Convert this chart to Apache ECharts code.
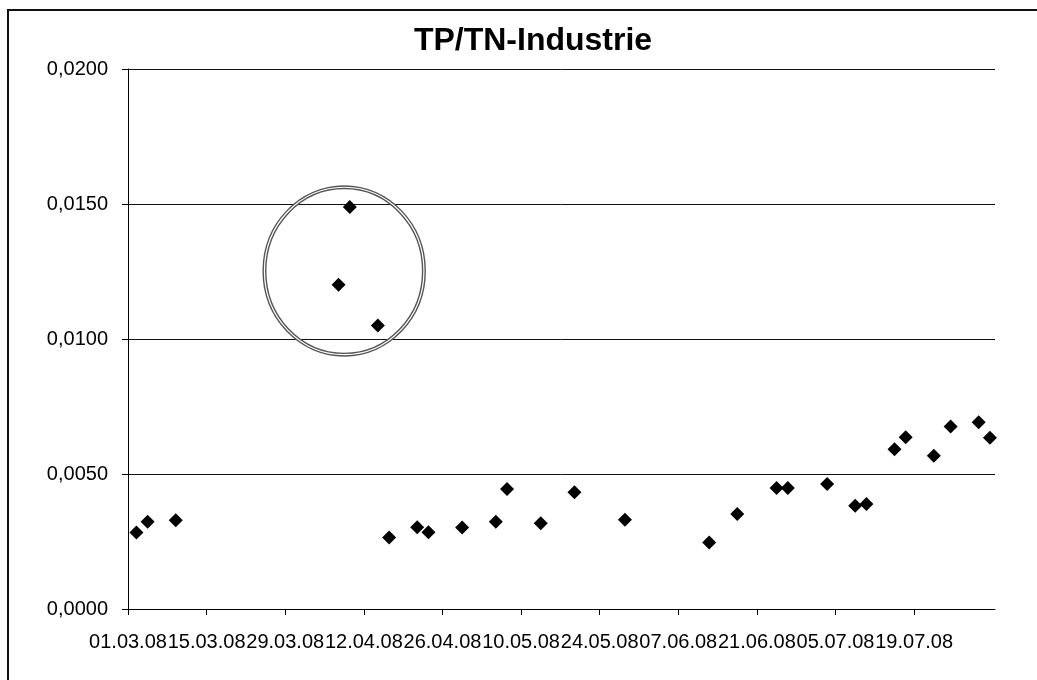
<!DOCTYPE html>
<html>
<head>
<meta charset="utf-8">
<title>TP/TN-Industrie</title>
<script src="https://cdn.jsdelivr.net/npm/echarts@6/dist/echarts.min.js"></script>
<style>
  html, body { margin: 0; padding: 0; background: #fff; }
  #chart-container { width: 1037px; height: 680px; }
</style>
</head>
<body>
<div id="chart-container"></div>
<script>
// Messdaten TP/TN-Industrie (Datum, Verhältnis)
const sampleDates = [
  '02.03.08', '04.03.08', '09.03.08', '07.04.08', '09.04.08', '14.04.08', '16.04.08',
  '21.04.08', '23.04.08', '29.04.08', '05.05.08', '07.05.08', '13.05.08', '19.05.08',
  '28.05.08', '12.06.08', '17.06.08', '24.06.08', '26.06.08', '03.07.08', '08.07.08',
  '10.07.08', '15.07.08', '17.07.08', '22.07.08', '25.07.08', '30.07.08', '01.08.08'
];
const tpTnValues = [
  0.00283, 0.00323, 0.00329, 0.01201, 0.01489, 0.01050, 0.00265,
  0.00303, 0.00284, 0.00302, 0.00323, 0.00444, 0.00318, 0.00432,
  0.00331, 0.00246, 0.00352, 0.00448, 0.00448, 0.00463, 0.00382,
  0.00389, 0.00592, 0.00636, 0.00568, 0.00676, 0.00692, 0.00634
];
const xTickLabels = [
  '01.03.08', '15.03.08', '29.03.08', '12.04.08', '26.04.08', '10.05.08',
  '24.05.08', '07.06.08', '21.06.08', '05.07.08', '19.07.08'
];
const yTickLabels = ['0,0000', '0,0050', '0,0100', '0,0150', '0,0200'];

// markierte Ausreißer (Kreis): Mittelpunkt Datum/Wert und Radien
const circleCenter = ['08.04.08', 0.01252];
const circleRadiusDays = 14.2;
const circleRadiusValue = 0.0031;

const DAY = 86400000;
const FONT = '"Liberation Sans", Arial, sans-serif';

function parseDate(s) {
  const p = s.split('.');
  return Date.UTC(2000 + Number(p[2]), Number(p[1]) - 1, Number(p[0]));
}
const startTime = parseDate(xTickLabels[0]);
function dayOffset(s) {
  return Math.round((parseDate(s) - startTime) / DAY);
}
function formatDay(d) {
  const dt = new Date(startTime + Math.round(d) * DAY);
  const dd = String(dt.getUTCDate()).padStart(2, '0');
  const mm = String(dt.getUTCMonth() + 1).padStart(2, '0');
  const yy = String(dt.getUTCFullYear()).slice(2);
  return dd + '.' + mm + '.' + yy;
}

// Excel setzt die Punkte mittig in den Tag
const slotShift = 0.5;
const tickDays = xTickLabels.map(dayOffset);
const points = sampleDates.map((d, i) => [dayOffset(d) + slotShift, tpTnValues[i]]);

const container = document.getElementById('chart-container');
const chart = echarts.init(container);

const option = {
  backgroundColor: '#ffffff',
  animation: false,
  title: {
    text: 'TP/TN-Industrie',
    left: 528,
    textAlign: 'center',
    top: 20,
    textStyle: { color: '#000', fontSize: 32, fontWeight: 'bold', fontFamily: FONT }
  },
  grid: { left: 128, right: 42, top: 69, bottom: 71, containLabel: false },
  xAxis: {
    type: 'value',
    min: 0,
    max: 154.4,
    axisLine: { show: true, lineStyle: { color: '#000', width: 1 } },
    axisTick: { show: true, length: 6, customValues: tickDays, lineStyle: { color: '#000' } },
    axisLabel: {
      customValues: tickDays,
      color: '#000',
      fontSize: 20,
      fontFamily: FONT,
      margin: 23,
      formatter: v => formatDay(v)
    },
    splitLine: { show: false }
  },
  yAxis: {
    type: 'value',
    min: 0,
    max: 0.02,
    interval: 0.005,
    axisLine: { show: true, lineStyle: { color: '#000', width: 1 } },
    axisTick: { show: true, length: 6, lineStyle: { color: '#000' } },
    axisLabel: {
      color: '#000',
      fontSize: 20,
      fontFamily: FONT,
      margin: 20,
      formatter: v => yTickLabels[Math.round(v / 0.005)]
    },
    splitLine: { show: true, lineStyle: { color: '#111', width: 1 } }
  },
  series: [{
    name: 'TP/TN',
    type: 'scatter',
    symbol: 'diamond',
    symbolSize: 14,
    itemStyle: { color: '#000', opacity: 1 },
    data: points
  }]
};

chart.setOption(option);

// Rahmen und Kreis um die Ausreißer
function drawAnnotations() {
  const cx = dayOffset(circleCenter[0]) + slotShift;
  const c = chart.convertToPixel({ gridIndex: 0 }, [cx, circleCenter[1]]);
  const ex = chart.convertToPixel({ gridIndex: 0 }, [cx + circleRadiusDays, circleCenter[1] - circleRadiusValue]);
  const rx = Math.abs(ex[0] - c[0]);
  const ry = Math.abs(ex[1] - c[1]);
  chart.setOption({
    graphic: [
      {
        type: 'rect',
        shape: { x: 8, y: 10, width: 1100, height: 700 },
        style: { fill: 'none', stroke: '#111', lineWidth: 2 },
        silent: true
      },
      {
        type: 'ellipse',
        shape: { cx: c[0], cy: c[1], rx: rx, ry: ry },
        style: { fill: 'none', stroke: '#555', lineWidth: 4 },
        silent: true
      },
      {
        type: 'ellipse',
        shape: { cx: c[0], cy: c[1], rx: rx, ry: ry },
        style: { fill: 'none', stroke: '#fff', lineWidth: 1.2 },
        silent: true
      }
    ]
  });
}
drawAnnotations();

window.addEventListener('resize', () => {
  chart.resize();
  drawAnnotations();
});
</script>
</body>
</html>
